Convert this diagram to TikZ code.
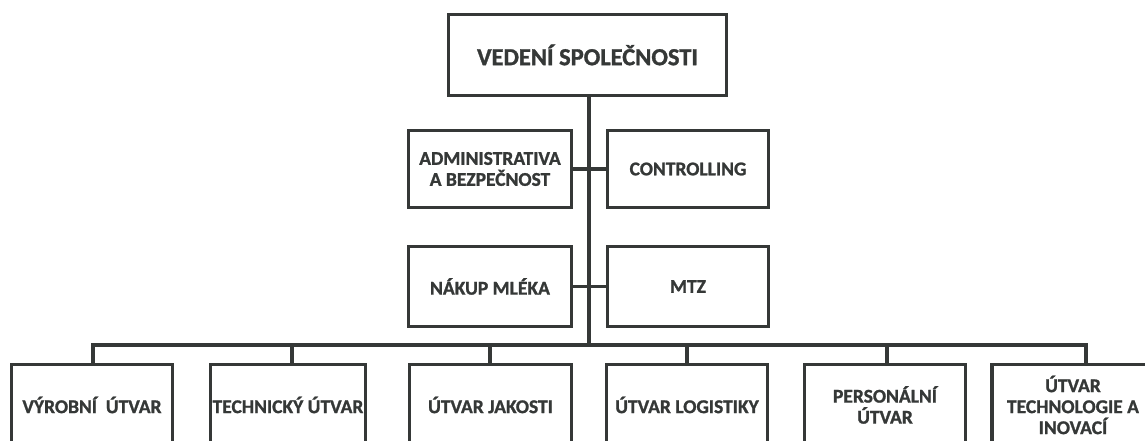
\documentclass[tikz,border=0pt]{standalone}
\usepackage{fontspec}
\setmainfont[BoldFeatures={FakeBold=1.2}]{Carlito}
\definecolor{ink}{HTML}{353837}
\begin{document}
\begin{tikzpicture}[x=1pt,y=-1pt,
  box/.style={draw=ink,line width=3.2pt,rectangle,inner sep=0pt,align=center,
    text=ink,font=\bfseries\fontsize{19.5}{21}\selectfont},
  conn/.style={draw=ink,line width=3.4pt}]
\useasboundingbox (0,0) rectangle (1145,441);
\clip (0,0) rectangle (1145,441);
\node[box,minimum width=278pt,minimum height=81pt,font=\bfseries\fontsize{24.5}{26}\selectfont] (top) at (587.5,55) {VEDENÍ SPOLEČNOSTI};
\node[box,minimum width=163pt,minimum height=77pt] (adm) at (490,169) {ADMINISTRATIVA\\A BEZPEČNOST};
\node[box,minimum width=161pt,minimum height=77pt] (ctrl) at (688,169) {CONTROLLING};
\node[box,minimum width=163pt,minimum height=80pt] (nak) at (490,286.5) {NÁKUP MLÉKA};
\node[box,minimum width=161pt,minimum height=80pt] (mtz) at (688,286.5) {MTZ};
\node[box,minimum width=161pt,minimum height=81pt] (b1) at (92,405) {VÝROBNÍ~~ÚTVAR};
\node[box,minimum width=155pt,minimum height=81pt] (b2) at (288,405) {TECHNICKÝ ÚTVAR};
\node[box,minimum width=162pt,minimum height=81pt] (b3) at (490.5,405) {ÚTVAR JAKOSTI};
\node[box,minimum width=161pt,minimum height=81pt] (b4) at (687,405) {ÚTVAR LOGISTIKY};
\node[box,minimum width=161pt,minimum height=81pt] (b5) at (885,405) {PERSONÁLNÍ\\ÚTVAR};
\node[box,minimum width=162pt,minimum height=81pt] (b6) at (1073,405) {ÚTVAR\\TECHNOLOGIE A\\INOVACÍ};
\coordinate (bus) at (589,345);
\coordinate (d1) at (93,345);
\coordinate (d2) at (292,345);
\coordinate (d3) at (490,345);
\coordinate (d4) at (687,345);
\coordinate (d5) at (887,345);
\coordinate (d6) at (1086,345);
\draw[conn] (top.south -| bus) -- (bus);
\draw[conn] (adm.east) -- (ctrl.west);
\draw[conn] (nak.east) -- (mtz.west);
\draw[conn,line cap=rect] (d1) -- (d6);
\foreach \i in {1,...,6} { \draw[conn] (d\i) -- (d\i |- b\i.north); }
\end{tikzpicture}
\end{document}
